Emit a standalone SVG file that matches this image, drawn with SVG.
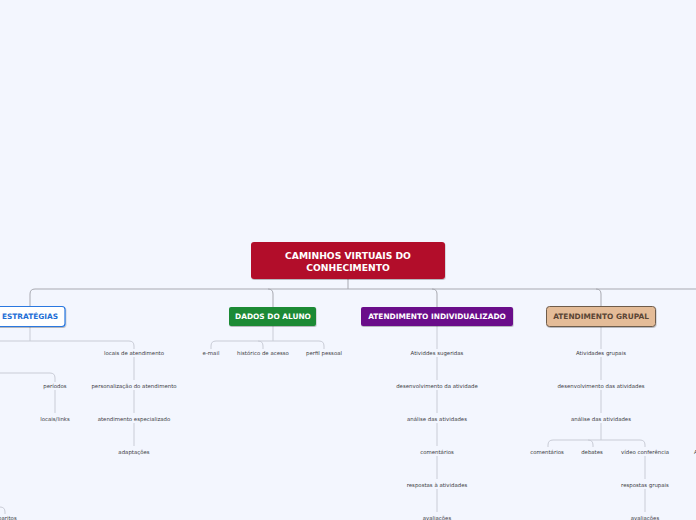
<svg xmlns="http://www.w3.org/2000/svg" width="696" height="520" viewBox="0 0 696 520">
<style>
.t{font-family:"DejaVu Sans",Verdana,sans-serif;font-size:5.4px;fill:#3c3c44;text-anchor:middle}
.h{font-family:"DejaVu Sans",Verdana,sans-serif;font-size:7.4px;font-weight:bold;text-anchor:middle}
.c{fill:none;stroke:#c9ccd6;stroke-width:1}
.ct{fill:none;stroke:#a8a9b1;stroke-width:1}
</style>
<defs>
<filter id="sh" x="-10%" y="-20%" width="120%" height="160%"><feDropShadow dx="0.5" dy="1" stdDeviation="0.6" flood-color="#000" flood-opacity="0.25"/></filter>
</defs>
<rect width="696" height="520" fill="#f3f6fe"/>
<g id="connectors">
<path class="ct" d="M348,279 V289"/>
<path class="ct" d="M30,306 V294 Q30,289 35,289 H696"/>
<path class="ct" d="M268,289 Q273,289 273,294 V307"/>
<path class="ct" d="M432,289 Q437,289 437,294 V307"/>
<path class="ct" d="M596,289 Q601,289 601,294 V306"/>
<path class="c" d="M30,326 V341"/>
<path class="c" d="M0,341 H129 Q134,341 134,346 V349"/>
<path class="c" d="M0,373 H50 Q55,373 55,378 V382"/>
<path class="c" d="M55,390 V413"/>
<path class="c" d="M134,357 V380"/>
<path class="c" d="M134,390 V413"/>
<path class="c" d="M134,423 V446"/>
<path class="c" d="M0,507 Q5,507 5,512 V514"/>
<path class="c" d="M273,326 V341"/>
<path class="c" d="M211,349 V346 Q211,341 216,341 H319 Q324,341 324,346 V349"/>
<path class="c" d="M258,341 Q263,341 263,346 V349"/>
<path class="c" d="M437,326 V349"/>
<path class="c" d="M437,357 V380"/>
<path class="c" d="M437,390 V413"/>
<path class="c" d="M437,423 V446"/>
<path class="c" d="M437,456 V479"/>
<path class="c" d="M437,489 V512"/>
<path class="c" d="M601,326 V349"/>
<path class="c" d="M601,357 V380"/>
<path class="c" d="M601,390 V413"/>
<path class="c" d="M601,423 V440"/>
<path class="c" d="M548,447 V445 Q548,440 553,440 H640 Q645,440 645,445 V447"/>
<path class="c" d="M588,440 Q593,440 593,445 V447"/>
<path class="c" d="M645,456 V479"/>
<path class="c" d="M645,489 V512"/>
</g>
<g id="root">
<rect x="251" y="242" width="194" height="37" rx="3" fill="#b20b2a" filter="url(#sh)"/>
<text x="348" y="259" class="h" style="font-size:9.2px" fill="#fff">CAMINHOS VIRTUAIS DO</text>
<text x="348" y="270.5" class="h" style="font-size:9.2px" fill="#fff">CONHECIMENTO</text>
</g>
<g id="estrategias">
<rect x="-6" y="306.5" width="71" height="20" rx="3" fill="#fff" stroke="#2a78e0" stroke-width="1.2" filter="url(#sh)"/>
<text x="30" y="319" class="h" fill="#1f6fd6">ESTRATÉGIAS</text>
</g>
<g id="locais-atendimento"><text x="134" y="355" class="t">locais de atendimento</text></g>
<g id="personalizacao"><text x="134" y="388" class="t">personalização do atendimento</text></g>
<g id="atendimento-especializado"><text x="134" y="421" class="t">atendimento especializado</text></g>
<g id="adaptacoes"><text x="134" y="454" class="t">adaptações</text></g>
<g id="periodos"><text x="55" y="388" class="t">períodos</text></g>
<g id="locais-links"><text x="55" y="421" class="t">locais/links</text></g>
<g id="gabaritos"><text x="4" y="520" class="t">gabaritos</text></g>
<g id="dados-aluno">
<rect x="229" y="307" width="87" height="19" rx="2" fill="#1b8a36" filter="url(#sh)"/>
<text x="273" y="319" class="h" fill="#fff">DADOS DO ALUNO</text>
</g>
<g id="email"><text x="211" y="355" class="t">e-mail</text></g>
<g id="historico"><text x="263" y="355" class="t">histórico de acesso</text></g>
<g id="perfil"><text x="324" y="355" class="t">perfil pessoal</text></g>
<g id="atendimento-individualizado">
<rect x="361" y="307" width="152" height="19" rx="2" fill="#6b0b8a" filter="url(#sh)"/>
<text x="437" y="319" class="h" fill="#fff">ATENDIMENTO INDIVIDUALIZADO</text>
</g>
<g id="ai-1"><text x="437" y="355" class="t">Atividdes sugeridas</text></g>
<g id="ai-2"><text x="437" y="388" class="t">desenvolvimento da atividade</text></g>
<g id="ai-3"><text x="437" y="421" class="t">análise das atividades</text></g>
<g id="ai-4"><text x="437" y="454" class="t">comentários</text></g>
<g id="ai-5"><text x="437" y="487" class="t">respostas à atividades</text></g>
<g id="ai-6"><text x="437" y="520" class="t">avaliações</text></g>
<g id="atendimento-grupal">
<rect x="546.5" y="306.5" width="109" height="20" rx="3" fill="#e4bc98" stroke="#6e5b4b" stroke-width="1" filter="url(#sh)"/>
<text x="601" y="319" class="h" fill="#5a4535">ATENDIMENTO GRUPAL</text>
</g>
<g id="ag-1"><text x="601" y="355" class="t">Atividades grupais</text></g>
<g id="ag-2"><text x="601" y="388" class="t">desenvolvimento das atividades</text></g>
<g id="ag-3"><text x="601" y="421" class="t">análise das atividades</text></g>
<g id="ag-4"><text x="547" y="454" class="t">comentários</text></g>
<g id="ag-5"><text x="592" y="454" class="t">debates</text></g>
<g id="ag-6"><text x="645" y="454" class="t">vídeo conferência</text></g>
<g id="ag-7"><text x="645" y="487" class="t">respostas grupais</text></g>
<g id="ag-8"><text x="645" y="520" class="t">avaliações</text></g>
<g id="right-cut"><text x="694" y="454" class="t" style="text-anchor:start">A</text></g>
</svg>
